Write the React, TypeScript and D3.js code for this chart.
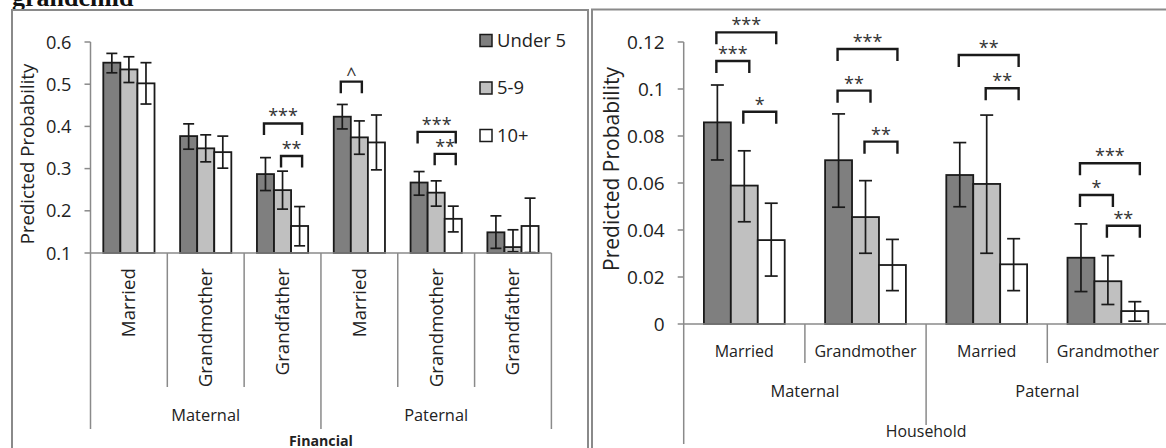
import * as d3 from "d3";

// two bar panels: Financial (left) and Household (right), predicted probability by child age

const AGE_GROUPS = ["Under 5", "5-9", "10+"];
const AGE_FILLS = ["#7f7f7f", "#c0c0c0", "#ffffff"];

// ---- Financial panel
const finCategories = ["Married", "Grandmother", "Grandfather", "Married", "Grandmother", "Grandfather"];
const finParentNames = ["Maternal", "Paternal"];
const finParentOf = [0, 0, 0, 1, 1, 1];
const finUnder5 = [0.551, 0.377, 0.287, 0.423, 0.267, 0.149];
const finUnder5Lo = [0.527, 0.346, 0.248, 0.394, 0.237, 0.111];
const finUnder5Hi = [0.573, 0.406, 0.326, 0.452, 0.293, 0.188];
const fin5to9 = [0.535, 0.348, 0.249, 0.374, 0.243, 0.114];
const fin5to9Lo = [0.504, 0.316, 0.204, 0.334, 0.211, 0.103];
const fin5to9Hi = [0.565, 0.38, 0.294, 0.413, 0.271, 0.155];
const fin10plus = [0.502, 0.339, 0.164, 0.362, 0.181, 0.164];
const fin10plusLo = [0.453, 0.301, 0.117, 0.297, 0.15, 0.101];
const fin10plusHi = [0.551, 0.377, 0.21, 0.427, 0.211, 0.23];
const finTicks = [0.1, 0.2, 0.3, 0.4, 0.5, 0.6];

// significance brackets: category, from series, to series, level (in data units), label
type Bracket = { cat: number; from: number; to: number; level: number; label: string };
const finBrackets: Bracket[] = [
  { cat: 2, from: 0, to: 2, level: 0.407, label: "***" },
  { cat: 2, from: 1, to: 2, level: 0.33, label: "**" },
  { cat: 3, from: 0, to: 1, level: 0.506, label: "^" },
  { cat: 4, from: 0, to: 2, level: 0.387, label: "***" },
  { cat: 4, from: 1, to: 2, level: 0.335, label: "**" },
];

// ---- Household panel
const hhCategories = ["Married", "Grandmother", "Married", "Grandmother"];
const hhParentNames = ["Maternal", "Paternal"];
const hhParentOf = [0, 0, 1, 1];
const hhUnder5 = [0.0858, 0.0697, 0.0634, 0.0282];
const hhUnder5Lo = [0.0698, 0.0497, 0.0499, 0.0138];
const hhUnder5Hi = [0.1017, 0.0894, 0.0772, 0.0426];
const hh5to9 = [0.0589, 0.0455, 0.0596, 0.0182];
const hh5to9Lo = [0.0435, 0.0301, 0.0301, 0.0083];
const hh5to9Hi = [0.0737, 0.061, 0.0889, 0.0291];
const hh10plus = [0.0357, 0.0251, 0.0254, 0.0055];
const hh10plusLo = [0.0204, 0.0142, 0.0142, 0.0012];
const hh10plusHi = [0.0514, 0.036, 0.0363, 0.0095];
const hhTicks = [0, 0.02, 0.04, 0.06, 0.08, 0.1, 0.12];

const hhBrackets: Bracket[] = [
  { cat: 0, from: 0, to: 2, level: 0.1241, label: "***" },
  { cat: 0, from: 0, to: 1, level: 0.1119, label: "***" },
  { cat: 0, from: 1, to: 2, level: 0.0903, label: "*" },
  { cat: 1, from: 0, to: 2, level: 0.117, label: "***" },
  { cat: 1, from: 0, to: 1, level: 0.0993, label: "**" },
  { cat: 1, from: 1, to: 2, level: 0.0776, label: "**" },
  { cat: 2, from: 0, to: 2, level: 0.1145, label: "**" },
  { cat: 2, from: 1, to: 2, level: 0.1003, label: "**" },
  { cat: 3, from: 0, to: 2, level: 0.0684, label: "***" },
  { cat: 3, from: 0, to: 1, level: 0.0549, label: "*" },
  { cat: 3, from: 1, to: 2, level: 0.0418, label: "**" },
];

const FONT = "'Open Sans', 'Noto Sans', sans-serif";
const AXIS = "#8a8a8a";
const INK = "#1a1a1a";
const fmt = (v: number) => String(+v.toFixed(2));

type Series = { value: number[]; lo: number[]; hi: number[] };

const finSeries: Series[] = [
  { value: finUnder5, lo: finUnder5Lo, hi: finUnder5Hi },
  { value: fin5to9, lo: fin5to9Lo, hi: fin5to9Hi },
  { value: fin10plus, lo: fin10plusLo, hi: fin10plusHi },
];
const hhSeries: Series[] = [
  { value: hhUnder5, lo: hhUnder5Lo, hi: hhUnder5Hi },
  { value: hh5to9, lo: hh5to9Lo, hi: hh5to9Hi },
  { value: hh10plus, lo: hh10plusLo, hi: hh10plusHi },
];

type Band = d3.ScaleBand<number>;
type Lin = d3.ScaleLinear<number, number>;

function BarsWithErrors({ series, x0, xi, y, base, capW }: { series: Series[]; x0: Band; xi: Band; y: Lin; base: number; capW: number }) {
  const w = xi.bandwidth();
  const bars = series.flatMap((s, si) =>
    s.value.map((v, ci) => (
      <rect
        key={`b${si}-${ci}`}
        x={x0(ci)! + xi(si)!}
        y={y(v)}
        width={w}
        height={y(base) - y(v)}
        fill={AGE_FILLS[si]}
        stroke={INK}
        strokeWidth={1.8}
      />
    ))
  );
  const errs = series.flatMap((s, si) =>
    s.value.map((_, ci) => {
      const cx = x0(ci)! + xi(si)! + w / 2;
      const yh = y(s.hi[ci]);
      const yl = y(s.lo[ci]);
      return (
        <g key={`e${si}-${ci}`} stroke={INK} strokeWidth={1.7}>
          <line x1={cx} x2={cx} y1={yh} y2={yl} />
          <line x1={cx - capW / 2} x2={cx + capW / 2} y1={yh} y2={yh} />
          <line x1={cx - capW / 2} x2={cx + capW / 2} y1={yl} y2={yl} />
        </g>
      );
    })
  );
  return (
    <g>
      {bars}
      {errs}
    </g>
  );
}

function Brackets({ list, x0, xi, y, leg, dxL, dxR }: { list: Bracket[]; x0: Band; xi: Band; y: Lin; leg: number; dxL: number; dxR: number }) {
  const w = xi.bandwidth();
  return (
    <g>
      {list.map((b, i) => {
        const xa = x0(b.cat)! + xi(b.from)! + w / 2 + dxL;
        const xb = x0(b.cat)! + xi(b.to)! + w / 2 + dxR;
        const yt = y(b.level);
        return (
          <g key={i}>
            <path d={`M${xa},${yt + leg}V${yt}H${xb}V${yt + leg}`} fill="none" stroke={INK} strokeWidth={2.4} />
            <text x={(xa + xb) / 2} y={yt - 1} textAnchor="middle" fontFamily={FONT} fontSize={18} fill="#333">
              {b.label}
            </text>
          </g>
        );
      })}
    </g>
  );
}

function YAxis({ y, ticks, x, tickFont }: { y: Lin; ticks: number[]; x: number; tickFont: number }) {
  const [r0, r1] = y.range();
  return (
    <g>
      <line x1={x} x2={x} y1={r0} y2={r1} stroke={AXIS} strokeWidth={1.5} />
      {ticks.map((t) => (
        <g key={t}>
          <line x1={x - 6} x2={x} y1={y(t)} y2={y(t)} stroke={AXIS} strokeWidth={1.5} />
          <text x={x - 19} y={y(t)} dy="0.36em" textAnchor="end" fontFamily={FONT} fontSize={tickFont} fill="#222">
            {fmt(t)}
          </text>
        </g>
      ))}
    </g>
  );
}

function FinancialPanel() {
  const y = d3.scaleLinear().domain([0.1, 0.6]).range([253, 42]);
  const x0 = d3.scaleBand<number>().domain(d3.range(finCategories.length)).range([90.5, 551.4]);
  const xi = d3.scaleBand<number>().domain(d3.range(AGE_GROUPS.length)).range([0, x0.bandwidth()]).paddingOuter(0.75);
  const yBase = y(0.1);
  const bw = x0.bandwidth();
  const edges = d3.range(finCategories.length + 1).map((i) => (i < finCategories.length ? x0(i)! : x0(i - 1)! + bw));
  const isGroupEdge = (i: number) => i === 0 || i === finCategories.length || finParentOf[i] !== finParentOf[i - 1];
  const parents = finParentNames.map((name, p) => {
    const idx = finParentOf.map((q, i) => (q === p ? i : -1)).filter((i) => i >= 0);
    return { name, x: (x0(idx[0])! + x0(idx[idx.length - 1])! + bw) / 2 };
  });
  return (
    <g>
      <rect x={12} y={10} width={576} height={460} fill="none" stroke={AXIS} strokeWidth={2} />
      <text
        transform={`translate(34,154) rotate(-90)`}
        textAnchor="middle"
        fontFamily={FONT}
        fontSize={18.6}
        fill="#222"
      >
        Predicted Probability
      </text>
      <YAxis y={y} ticks={finTicks} x={90.5} tickFont={18.2} />
      <BarsWithErrors series={finSeries} x0={x0} xi={xi} y={y} base={0.1} capW={11} />
      <Brackets list={finBrackets} x0={x0} xi={xi} y={y} leg={11.5} dxL={-1.5} dxR={2.5} />
      <line x1={90.5} x2={551.4} y1={yBase} y2={yBase} stroke={AXIS} strokeWidth={1.5} />
      {edges.map((ex, i) => (
        <line key={i} x1={ex} x2={ex} y1={yBase} y2={isGroupEdge(i) ? 429 : 387} stroke={AXIS} strokeWidth={1.5} />
      ))}
      {finCategories.map((c, i) => (
        <text
          key={i}
          transform={`translate(${x0(i)! + bw / 2 + 6.5},268) rotate(-90)`}
          textAnchor="end"
          fontFamily={FONT}
          fontSize={18.7}
          fill="#222"
        >
          {c}
        </text>
      ))}
      {parents.map((p) => (
        <text key={p.name} x={p.x} y={421} textAnchor="middle" fontFamily={FONT} fontSize={16.4} fill="#222">
          {p.name}
        </text>
      ))}
      <text x={(90.5 + 551.4) / 2} y={445.5} textAnchor="middle" fontFamily={FONT} fontWeight="bold" fontSize={14.2} fill="#222">
        Financial
      </text>
      {AGE_GROUPS.map((g, i) => (
        <g key={g} transform={`translate(480,${34.5 + i * 47.5})`}>
          <rect x={0} y={0} width={12} height={12} fill={AGE_FILLS[i]} stroke={INK} strokeWidth={1.5} />
          <text x={17} y={12} fontFamily={FONT} fontSize={18.4} fill="#222">
            {g}
          </text>
        </g>
      ))}
    </g>
  );
}

function HouseholdPanel() {
  const y = d3.scaleLinear().domain([0, 0.12]).range([324, 42]);
  const x0 = d3.scaleBand<number>().domain(d3.range(hhCategories.length)).range([683.7, 1168.5]);
  const xi = d3.scaleBand<number>().domain(d3.range(AGE_GROUPS.length)).range([0, x0.bandwidth()]).paddingOuter(0.75);
  const yBase = y(0);
  const bw = x0.bandwidth();
  const edges = d3.range(hhCategories.length + 1).map((i) => (i < hhCategories.length ? x0(i)! : x0(i - 1)! + bw));
  const edgeLen = (i: number) =>
    i === 0 || i === hhCategories.length ? 444 : hhParentOf[i] !== hhParentOf[i - 1] ? 425 : 363;
  const parents = hhParentNames.map((name, p) => {
    const idx = hhParentOf.map((q, i) => (q === p ? i : -1)).filter((i) => i >= 0);
    return { name, x: (x0(idx[0])! + x0(idx[idx.length - 1])! + bw) / 2 };
  });
  return (
    <g>
      <rect x={592} y={9.5} width={600} height={460} fill="none" stroke={AXIS} strokeWidth={2} />
      <text
        transform={`translate(619,169) rotate(-90)`}
        textAnchor="middle"
        fontFamily={FONT}
        fontSize={21}
        fill="#222"
      >
        Predicted Probability
      </text>
      <YAxis y={y} ticks={hhTicks} x={683.7} tickFont={19} />
      <BarsWithErrors series={hhSeries} x0={x0} xi={xi} y={y} base={0} capW={13} />
      <Brackets list={hhBrackets} x0={x0} xi={xi} y={y} leg={12} dxL={-1} dxR={5} />
      <line x1={683.7} x2={1168.5} y1={yBase} y2={yBase} stroke={AXIS} strokeWidth={1.5} />
      {edges.map((ex, i) => (
        <line key={i} x1={ex} x2={ex} y1={yBase} y2={edgeLen(i)} stroke={AXIS} strokeWidth={1.5} />
      ))}
      {hhCategories.map((c, i) => (
        <text key={i} x={x0(i)! + bw / 2} y={357} textAnchor="middle" fontFamily={FONT} fontSize={16} fill="#222">
          {c}
        </text>
      ))}
      {parents.map((p) => (
        <text key={p.name} x={p.x} y={397} textAnchor="middle" fontFamily={FONT} fontSize={16.4} fill="#222">
          {p.name}
        </text>
      ))}
      <text x={(683.7 + 1168.5) / 2} y={437} textAnchor="middle" fontFamily={FONT} fontSize={15.9} fill="#222">
        Household
      </text>
    </g>
  );
}

export default function App() {
  return (
    <svg width={1166} height={448} style={{ position: "absolute", left: 0, top: 0, background: "#fff" }}>
      <text x={12} y={6} fontFamily="'Liberation Serif', serif" fontWeight="bold" fontSize={26} fill="#111">
        grandchild
      </text>
      <FinancialPanel />
      <HouseholdPanel />
    </svg>
  );
}
